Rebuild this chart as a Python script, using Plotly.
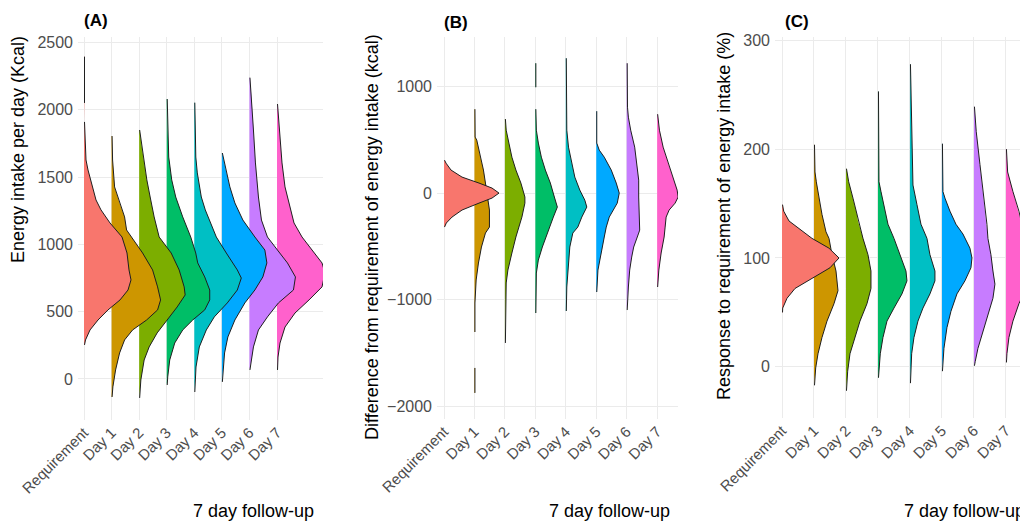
import plotly.graph_objects as go

categories = ["Requirement", "Day 1", "Day 2", "Day 3", "Day 4", "Day 5", "Day 6", "Day 7"]
colors = ["#F8766D", "#CD9600", "#7CAE00", "#00BE67", "#00BFC4", "#00A9FF", "#C77CFF", "#FF61CC"]

# Panel A: energy intake per day (Kcal) - density profiles (value grid, relative density)
a_vals = [
    [2395, 2222, 2051, None, 1910, 1776, 1627, 1553, 1404, 1330, 1256, 1159, 1055, 936, 810, 736, 661, 587, 513, 438, 364, 290, 253],
    [1805, 1627, 1427, 1308, 1204, 1107, 1055, 936, 810, 684, 587, 513, 438, 364, 290, 193, 67, -59, -134],
    [1850, 1724, 1605, 1479, 1352, 1204, 1055, 936, 810, 684, 624, 535, 438, 342, 238, 141, -7, -141],
    [2080, 1850, 1649, 1479, 1352, 1204, 1055, 936, 862, 758, 661, 587, 513, 438, 364, 267, 141, 15, -45],
    [2053, 1850, 1649, 1531, 1352, 1256, 1181, 1055, 936, 810, 750, 661, 565, 461, 364, 238, 89, -97],
    [1679, 1553, 1427, 1308, 1181, 1055, 958, 862, 758, 661, 565, 438, 312, 193, 67, -22],
    [2239, 2095, 1850, 1605, 1352, 1181, 1055, 958, 862, 758, 661, 565, 461, 364, 238, 141, 67],
    [2043, 1850, 1605, 1427, 1308, 1159, 1055, 958, 862, 788, 684, 587, 490, 386, 267, 163, 67],
]
a_dens = [
    [0.5, 0.7, 0.5, None, 0.5, 1, 2, 4, 9, 12, 17, 26, 38, 43, 45, 47, 44, 36, 24, 14, 6, 1.5, 0.5],
    [0.5, 1, 3, 8, 13, 15, 20, 31, 41, 46, 49, 46, 35, 21, 13, 8, 4, 1.3, 0.5],
    [0.5, 2.7, 5, 7.7, 11, 15, 20, 32, 40, 45, 46, 38, 28, 18, 10, 5, 1.7, 0.5],
    [0.5, 1, 2, 5, 9, 16, 24, 29, 31, 38, 43, 43, 38, 26, 16, 8, 3, 1, 0.5],
    [0.5, 1, 1.5, 3, 7, 11, 15, 22, 32, 43, 47, 43, 33, 20, 12, 5, 1.7, 0.5],
    [0.5, 4, 8, 13, 21, 33, 43, 45, 41, 33, 23, 13, 6, 2.7, 1, 0.5],
    [0.5, 2, 4, 6, 9, 12, 18, 28, 38, 46, 44, 29, 18, 9, 4, 2, 0.5],
    [0.5, 2.3, 5, 8, 12, 17, 25, 35, 45, 48, 45, 32, 18, 8, 3, 1, 0.5],
]

# Panel B: difference from requirement (kcal)
b_vals = [
    [309, 281, 216, 150, 94, 47, 0, -47, -94, -159, -225, -281, -319],
    [787, 525, 497, 337, 216, 94, -37, -159, -319, -375, -506, -656, -815, -1031, -1303, None, -1640, -1874],
    [694, 590, 469, 337, 216, 94, -37, -94, -225, -347, -412, -562, -722, -843, -1406],
    [1218, 993, None, 787, 590, 469, 337, 216, 94, -37, -131, -225, -347, -375, -506, -628, -750, -1125],
    [1265, 590, 431, 281, 150, 28, -66, -131, -225, -319, -375, -506, -694, -881, -1106],
    [768, 469, 403, 337, 216, 94, 0, -94, -225, -319, -412, -562, -722, -928],
    [1218, 806, 712, 590, 431, 281, 122, -37, -225, -347, -375, -506, -600, -722, -881, -1003, -1097],
    [740, 590, 431, 281, 150, 28, -37, -94, -159, -225, -319, -412, -562, -722, -881],
]
b_dens = [
    [0.5, 2, 7, 18, 35, 48, 55, 48, 35, 18, 8, 2.3, 0.5],
    [0.5, 0.7, 2.3, 6, 9, 11, 13, 15, 15, 11, 7, 4, 1.7, 0.5, 0.5, None, 0.5, 0.5],
    [0.5, 1.3, 4, 7, 11, 16, 20, 20, 17, 13, 11, 7, 3, 1.3, 0.5],
    [0.5, 0.5, None, 0.5, 1, 3, 6, 10, 15, 19, 22, 18, 13, 12, 7, 3, 1, 0.5],
    [0.5, 1, 2.7, 6, 9, 14, 19, 21, 16, 12, 7, 4, 2.7, 1, 0.5],
    [0.5, 0.5, 3, 8, 15, 20, 23, 21, 13, 10, 8, 5, 1.7, 0.5],
    [0.5, 0.8, 1.7, 4, 8, 10, 12, 12, 13, 13, 12, 7, 5, 3, 1.7, 0.7, 0.5],
    [0.5, 2.3, 6, 11, 16, 20, 21, 18, 12, 9, 8, 7, 4, 1.7, 0.5],
]

# Panel C: response to requirement (%)
c_vals = [
    [149, 143, 134, 127, 118, 109, 100, 91, 81, 72, 63, 54, 50],
    [204, 179, 170, 155, 140, 124, 118, 103, 88, 70, 58, 42, 27, 12, -1, -17],
    [182, 170, 155, 140, 134, 118, 103, 88, 72, 58, 42, 27, 12, -4, -22],
    [253, 170, 161, 145, 131, 118, 103, 88, 79, 67, 54, 42, 27, 12, -10],
    [278, 237, 167, 149, 131, 118, 103, 88, 79, 67, 54, 42, 27, 12, -15],
    [205, 161, 155, 143, 131, 122, 109, 100, 91, 79, 67, 51, 36, 17, -4],
    [239, 216, 186, 155, 131, 118, 103, 88, 76, 63, 48, 33, 17, 5, 1],
    [200, 179, 161, 143, 127, 122, 113, 103, 94, 85, 76, 63, 58, 42, 27, 12, 4],
]
c_dens = [
    [0.5, 1.7, 7, 17, 30, 47, 57, 48, 30, 13, 5, 0.7, 0.5],
    [0.5, 1, 2.3, 5, 8, 12, 15, 18, 22, 24, 20, 13, 8, 4, 1.7, 0.5],
    [0.5, 2.7, 7, 11, 12, 17, 22, 25, 25, 21, 14, 9, 4, 1.7, 0.5],
    [0.5, 1, 3, 7, 10, 16, 22, 28, 29, 24, 16, 9, 5, 2.3, 0.5],
    [0.5, 1.2, 3, 7, 11, 17, 20, 25, 25, 20, 13, 8, 4, 1.7, 0.5],
    [0.5, 1, 3, 8, 14, 21, 28, 30, 29, 23, 15, 9, 5, 2, 0.5],
    [0.5, 2.3, 6, 10, 13, 14, 17, 19, 21, 19, 14, 9, 4, 1.3, 0.5],
    [0.5, 1.7, 7, 13, 17, 18, 22, 26, 27, 25, 22, 16, 13, 7, 3, 1, 0.5],
]

a_ticks = [0, 500, 1000, 1500, 2000, 2500]
b_ticks = [-2000, -1000, 0, 1000]
c_ticks = [0, 100, 200, 300]

FONT = "Liberation Sans, Arial, sans-serif"
OFF = 8                      # page body margin
W, H = 1028 - OFF, 522 - OFF


def fx_(px):
    return (px - OFF) / W


def fy_(py):
    return 1 - (py - OFF) / H


fig = go.Figure()


def add_panel(vals, dens, scale, xa, ya):
    for k in reversed(range(len(categories))):
        v, d = vals[k], dens[k]
        fx, fy = [k], [v[0]]
        for i, (y, w) in enumerate(zip(v, d)):
            if y is None:
                fx += [k, k]
                fy += [v[i - 1], v[i + 1]]
            else:
                fx.append(k + w * scale)
                fy.append(y)
        fx.append(k)
        fy.append(v[-1])
        fig.add_trace(go.Scatter(x=fx, y=fy, mode="lines", fill="toself",
                                 fillcolor=colors[k], line=dict(width=0, color=colors[k]),
                                 xaxis=xa, yaxis=ya, hoverinfo="skip", showlegend=False))
        lx = [None if w is None else k + w * scale for w in d]
        fig.add_trace(go.Scatter(x=lx, y=v, mode="lines", connectgaps=False,
                                 line=dict(width=1, color="#1f1f1f"),
                                 xaxis=xa, yaxis=ya, hoverinfo="skip", showlegend=False))


add_panel(a_vals, a_dens, 1 / 27.57, "x", "y")
add_panel(b_vals, b_dens, 1 / 30.45, "x2", "y2")
add_panel(c_vals, c_dens, 1 / 32.0, "x3", "y3")

grid = "#ebebeb"
tickfont = dict(family=FONT, size=16, color="#4d4d4d")
xtickfont = dict(family=FONT, size=15, color="#4d4d4d")


def xax(domain, rng, anchor):
    return dict(domain=domain, range=rng, tickmode="array", tickvals=list(range(8)),
                ticktext=categories, tickangle=-45, showgrid=True, gridcolor=grid,
                gridwidth=1, zeroline=False, showline=False, ticks="",
                tickfont=xtickfont, fixedrange=True, automargin=False, anchor=anchor)


def yax(domain, rng, ticks, anchor):
    return dict(domain=domain, range=rng, tickmode="array", tickvals=ticks,
                showgrid=True, gridcolor=grid, gridwidth=1, zeroline=False,
                showline=False, ticks="", tickfont=tickfont, anchor=anchor,
                ticklabelstandoff=4, fixedrange=True, automargin=False)


fig.update_layout(
    width=W, height=H, autosize=False,
    margin=dict(l=0, r=0, t=0, b=0, pad=0, autoexpand=False),
    paper_bgcolor="white", plot_bgcolor="white",
    font=dict(family=FONT),
    xaxis=xax([fx_(78), fx_(323)], [-0.218, 8.668], "y"),
    yaxis=yax([fy_(420), fy_(37)], [-305, 2541], a_ticks, "x"),
    xaxis2=xax([fx_(437), fx_(678)], [-0.23, 7.685], "y2"),
    yaxis2=yax([fy_(419), fy_(37)], [-2119, 1464], b_ticks, "x2"),
    xaxis3=xax([fx_(775), 1.0], [-0.219, 7.69], "y3"),
    yaxis3=yax([fy_(418), fy_(37)], [-47, 303], c_ticks, "x3"),
)

ann = []
for txt, px, py in [("(A)", 82, 20), ("(B)", 442, 22), ("(C)", 783, 21)]:
    ann.append(dict(text="<b>%s</b>" % txt, x=fx_(px), y=fy_(py), xref="paper", yref="paper",
                    xanchor="left", yanchor="middle", showarrow=False,
                    font=dict(family=FONT, size=17, color="black")))
for px in [316, 672, 1027]:
    ann.append(dict(text="7 day follow-up", x=fx_(px), y=fy_(511), xref="paper", yref="paper",
                    xanchor="right", yanchor="middle", showarrow=False,
                    font=dict(family=FONT, size=18, color="black")))
for txt, px, py in [("Energy intake per day (Kcal)", 18, 150),
                    ("Difference from requirement of energy intake (kcal)", 372, 237),
                    ("Response to requirement of energy intake (%)", 724, 216)]:
    ann.append(dict(text=txt, x=fx_(px), y=fy_(py), xref="paper", yref="paper",
                    xanchor="center", yanchor="middle", textangle=-90, showarrow=False,
                    font=dict(family=FONT, size=18, color="black")))
fig.update_layout(annotations=ann)

fig.write_html("out.html", config={"responsive": False})
